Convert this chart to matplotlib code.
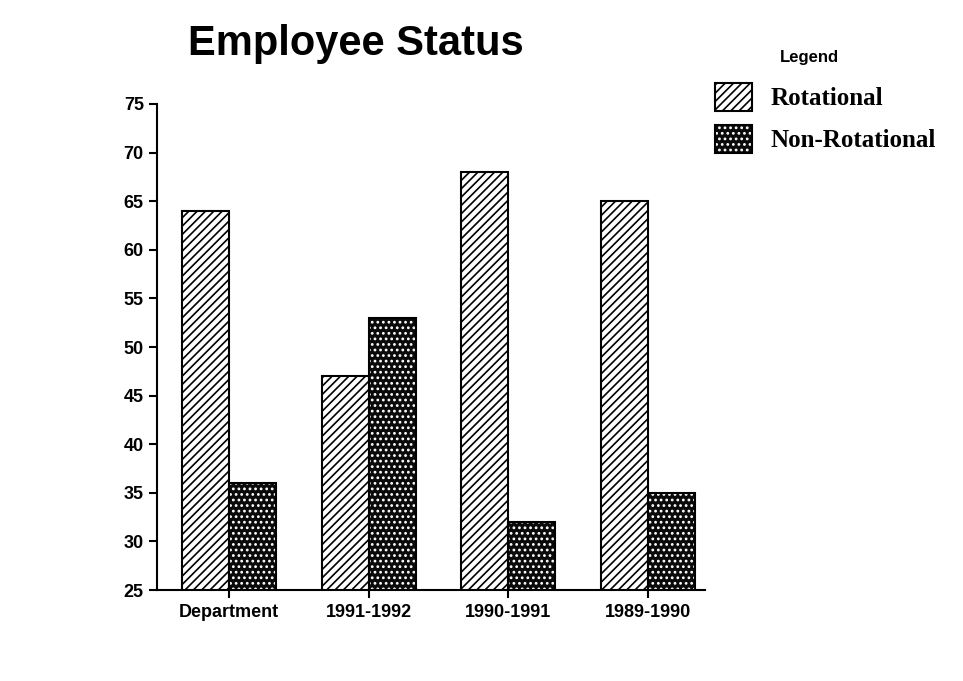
import numpy as np
import matplotlib
matplotlib.use("Agg")
import matplotlib.pyplot as plt
from matplotlib.patches import Patch
from matplotlib.legend_handler import HandlerTuple

categories = ["Department", "1991-1992", "1990-1991", "1989-1990"]
rotational = [64, 47, 68, 65]
non_rotational = [36, 53, 32, 35]
y_ticks = [25, 30, 35, 40, 45, 50, 55, 60, 65, 70, 75]

plt.rcParams['hatch.linewidth'] = 1.2

fig = plt.figure(figsize=(9.63, 6.81), dpi=100)
ax = fig.add_axes([0.163, 0.1336, 0.569, 0.7137])

x = np.arange(len(categories))
w = 0.336

ax.bar(x - w/2, rotational, w, color='white', edgecolor='black',
       hatch='////', linewidth=1.5, zorder=2)
# dark dotted pattern: white dots on black, then a black outline on top
ax.bar(x + w/2, non_rotational, w, color='#0a0a0a', edgecolor='white',
       hatch='...', linewidth=0, zorder=2)
ax.bar(x + w/2, non_rotational, w, fill=False, edgecolor='black',
       linewidth=1.5, zorder=3)

ax.set_ylim(25, 75)
ax.set_xlim(-0.515, 3.408)
ax.set_yticks(y_ticks)
ax.set_yticklabels([str(t) for t in y_ticks], fontfamily='Liberation Sans',
                   fontweight='bold', fontsize=13)
ax.set_xticks(x)
ax.set_xticklabels(categories, fontfamily='Liberation Sans',
                   fontweight='bold', fontsize=13)
ax.tick_params(axis='both', direction='out', length=6, width=1.5, colors='black')
ax.tick_params(axis='x', pad=4)

for s in ['top', 'right']:
    ax.spines[s].set_visible(False)
for s in ['left', 'bottom']:
    ax.spines[s].set_linewidth(1.5)

fig.text(0.195, 0.935, "Employee Status", fontfamily='Liberation Sans',
         fontweight='bold', fontsize=30, va='center', ha='left')

fig.text(0.81, 0.916, "Legend", fontfamily='Liberation Sans',
         fontweight='bold', fontsize=12, va='center', ha='left')

h_rot = Patch(facecolor='white', edgecolor='black', hatch='////', linewidth=1.5)
h_non_fill = Patch(facecolor='#0a0a0a', edgecolor='white', hatch='...', linewidth=0)
h_non_edge = Patch(fill=False, edgecolor='black', linewidth=1.5)
leg = fig.legend([h_rot, (h_non_fill, h_non_edge)], ["Rotational", "Non-Rotational"],
                 handler_map={tuple: HandlerTuple(ndivide=1, pad=0)},
                 loc='upper left', bbox_to_anchor=(0.742, 0.878), frameon=False,
                 prop={'family': 'Liberation Serif', 'weight': 'bold', 'size': 18},
                 handlelength=1.5, handleheight=1.35, handletextpad=0.75,
                 labelspacing=0.55, borderaxespad=0, borderpad=0)

fig.savefig("out.png", dpi=100)
